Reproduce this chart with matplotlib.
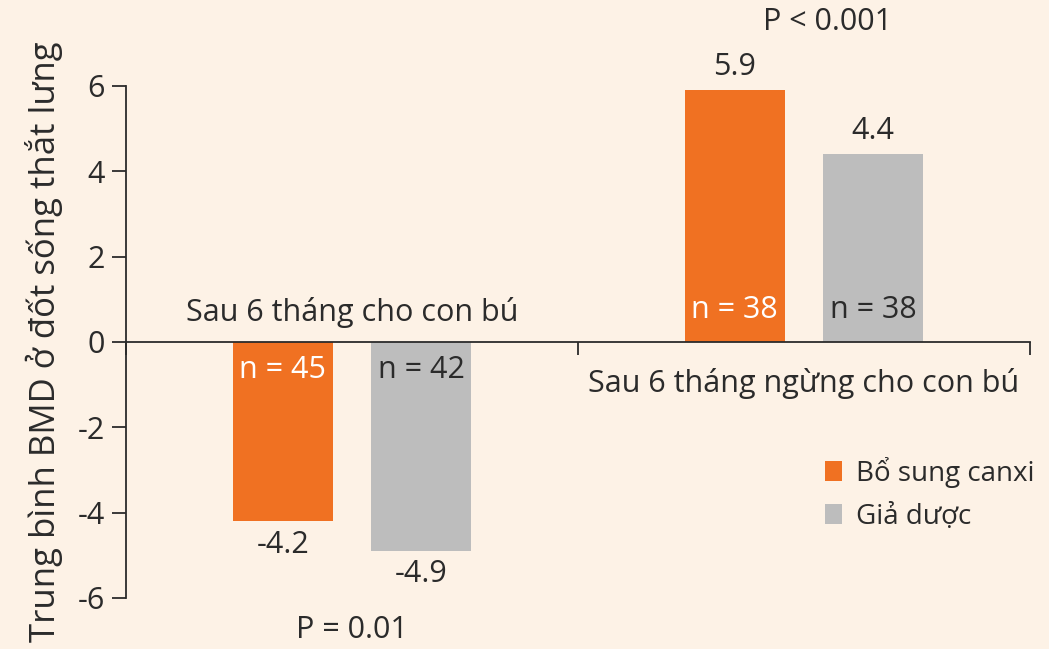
import matplotlib.pyplot as plt
import numpy as np

# data
groups = ['Sau 6 tháng cho con bú', 'Sau 6 tháng ngừng cho con bú']
series = ['Bổ sung canxi', 'Giả dược']
calcium = [-4.2, 5.9]
placebo = [-4.9, 4.4]
n_calcium = [45, 38]
n_placebo = [42, 38]
p_values = ['P = 0.01', 'P < 0.001']

orange = '#F07122'
grey = '#BDBDBD'
bg = '#FDF2E6'
ink = '#2B2B2B'

plt.rcParams['font.family'] = ['Open Sans', 'DejaVu Sans']
plt.rcParams['axes.unicode_minus'] = False

fig = plt.figure(figsize=(10.49, 6.49), dpi=100, facecolor=bg)
ax = fig.add_axes([0.1201, 0.0786, 0.8618, 0.789])
ax.set_facecolor(bg)

centers = np.arange(len(groups)) + 0.5
off = 0.153
w = 0.221
ax.bar(centers - off, calcium, w, color=orange, label=series[0], zorder=2)
ax.bar(centers + off, placebo, w, color=grey, label=series[1], zorder=2)

fs = 22

ax.set_xlim(0, 2)
ax.set_ylim(-6, 6)
ax.set_yticks(range(-6, 7, 2))
ax.set_xticks([0, 1, 2])
ax.set_xticklabels([])
ax.tick_params(axis='y', direction='out', length=10, width=1.3, color=ink,
               labelsize=fs, labelcolor=ink, pad=5)
ax.tick_params(axis='x', direction='out', length=9, width=1.3, color=ink)

for s in ['top', 'right']:
    ax.spines[s].set_visible(False)
ax.spines['bottom'].set_position(('data', 0))
ax.spines['bottom'].set_linewidth(1.3)
ax.spines['left'].set_linewidth(1.3)
ax.spines['bottom'].set_color(ink)
ax.spines['left'].set_color(ink)

ax.set_ylabel('Trung bình BMD ở đốt sống thắt lưng', fontsize=25, color=ink)
ax.yaxis.set_label_coords(-0.070, 0.5)

for i, c in enumerate(centers):
    for x, v, n, tc in [(c - off, calcium[i], n_calcium[i], 'white'),
                        (c + off, placebo[i], n_placebo[i], ink)]:
        # value label beyond the bar end, n inside the bar near zero
        if v > 0:
            ax.annotate(f'{v}', (x, v), xytext=(0, 6), textcoords='offset points',
                        ha='center', va='bottom', fontsize=fs, color=ink)
            ax.text(x, 0.75, f'n = {n}', ha='center', va='center', fontsize=fs, color=tc)
        else:
            ax.annotate(f'{v}', (x, v), xytext=(0, -6), textcoords='offset points',
                        ha='center', va='top', fontsize=fs, color=ink)
            ax.text(x, -0.65, f'n = {n}', ha='center', va='center', fontsize=fs, color=tc)

ax.text(centers[0], 0.7, groups[0], ha='center', va='center', fontsize=fs, color=ink)
ax.text(centers[1], -0.97, groups[1], ha='center', va='center', fontsize=fs, color=ink)
ax.text(centers[0], -6.75, p_values[0], ha='center', va='center', fontsize=fs,
        color=ink, clip_on=False)
ax.text(1.553, 7.5, p_values[1], ha='center', va='center', fontsize=fs,
        color=ink, clip_on=False)

leg = ax.legend(loc='upper left', bbox_to_anchor=(0.7456, 0.325), frameon=False,
                fontsize=20, handlelength=0.6, handleheight=0.75, handletextpad=0.5,
                labelspacing=0.55, labelcolor=ink)

fig.savefig('out.png', dpi=100, facecolor=bg)
